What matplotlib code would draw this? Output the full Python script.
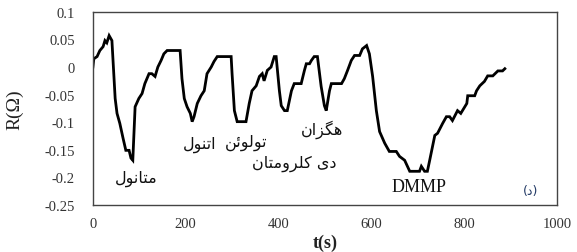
import matplotlib
matplotlib.use("Agg")
import matplotlib.pyplot as plt

# ---------------- data ----------------
t = [0, 2, 9, 15, 22, 26, 30, 35, 39, 41,
     48, 52, 58, 65, 71, 78, 82, 86, 91,
     99, 106, 112, 121, 127, 134, 140, 147, 153, 160, 188,
     192, 197, 203, 210, 214, 218,
     225, 233, 240, 246, 255, 261, 268, 298,
     300, 305, 311, 330,
     337, 343, 352, 359, 365, 369, 376, 384, 391, 395,
     402, 406, 413, 419,
     428, 434, 449, 456, 460, 467, 471, 477, 484,
     492, 499, 503,
     510, 514, 536, 542, 549, 557, 564, 575, 581, 590, 596,
     603, 611, 618,
     629, 639, 654, 661, 672, 683, 704, 708, 715, 721,
     726, 737, 743, 754, 762, 769, 775, 786, 793, 806, 808,
     823, 827, 834, 844, 851, 862, 873, 883, 888]
R = [0.0, 0.015, 0.019, 0.030, 0.037, 0.048, 0.044, 0.057, 0.051, 0.048,
     -0.057, -0.084, -0.102, -0.129, -0.151, -0.151, -0.165, -0.169, -0.072,
     -0.057, -0.048, -0.030, -0.012, -0.012, -0.017, 0.0, 0.012, 0.024, 0.030, 0.030,
     -0.021, -0.057, -0.072, -0.084, -0.099, -0.090,
     -0.066, -0.052, -0.043, -0.012, 0.0, 0.010, 0.019, 0.019,
     -0.012, -0.079, -0.099, -0.099,
     -0.066, -0.043, -0.034, -0.017, -0.012, -0.025, -0.006, 0.0, 0.019, 0.019,
     -0.043, -0.070, -0.079, -0.079,
     -0.043, -0.030, -0.030, -0.006, 0.006, 0.006, 0.012, 0.019, 0.019,
     -0.035, -0.070, -0.079,
     -0.043, -0.030, -0.030, -0.021, -0.006, 0.012, 0.021, 0.021, 0.033, 0.039, 0.024,
     -0.017, -0.079, -0.117,
     -0.138, -0.153, -0.153, -0.162, -0.169, -0.189, -0.189, -0.180, -0.189, -0.189,
     -0.169, -0.124, -0.120, -0.102, -0.090, -0.090, -0.097, -0.079, -0.084, -0.066, -0.052,
     -0.052, -0.043, -0.034, -0.026, -0.016, -0.016, -0.007, -0.007, -0.003]

x_ticks = [0, 200, 400, 600, 800, 1000]
y_ticks = [-0.25, -0.2, -0.15, -0.1, -0.05, 0, 0.05, 0.1]
y_tick_labels = ["-0.25", "-0.2", "-0.15", "-0.1", "-0.05", "0", "0.05", "0.1"]

labels = ["متانول", "اتنول", "تولوئن", "دی کلرومتان", "هگزان", "DMMP"]
label_t = [93, 229, 330, 434, 495, 702]
label_R = [-0.200, -0.139, -0.136, -0.174, -0.111, -0.216]

# ---------------- simple Arabic/Persian shaping ----------------
FORMS = {  # iso, fin, ini, med  (None = right-joining only)
    "\u0627": ("\uFE8D", "\uFE8E", None, None),
    "\u062A": ("\uFE95", "\uFE96", "\uFE97", "\uFE98"),
    "\u0646": ("\uFEE5", "\uFEE6", "\uFEE7", "\uFEE8"),
    "\u0648": ("\uFEED", "\uFEEE", None, None),
    "\u0644": ("\uFEDD", "\uFEDE", "\uFEDF", "\uFEE0"),
    "\u0645": ("\uFEE1", "\uFEE2", "\uFEE3", "\uFEE4"),
    "\u0626": ("\uFE89", "\uFE8A", "\uFE8B", "\uFE8C"),
    "\u062F": ("\uFEA9", "\uFEAA", None, None),
    "\u0631": ("\uFEAD", "\uFEAE", None, None),
    "\u0632": ("\uFEAF", "\uFEB0", None, None),
    "\u0647": ("\uFEE9", "\uFEEA", "\uFEEB", "\uFEEC"),
    "\u06CC": ("\uFBFC", "\uFBFD", "\uFBFE", "\uFBFF"),
    "\u06A9": ("\uFB8E", "\uFB8F", "\uFB90", "\uFB91"),
    "\u06AF": ("\uFB92", "\uFB93", "\uFB94", "\uFB95"),
}


def dual(c):
    return c in FORMS and FORMS[c][2] is not None


def shape(s):
    if not any(c in FORMS for c in s):
        return s
    out = []
    for i, c in enumerate(s):
        if c not in FORMS:
            out.append(c)
            continue
        prev = s[i - 1] if i > 0 else ""
        nxt = s[i + 1] if i + 1 < len(s) else ""
        jp = dual(prev)
        jn = dual(c) and nxt in FORMS
        iso, fin, ini, med = FORMS[c]
        if jp and jn:
            out.append(med)
        elif jp:
            out.append(fin)
        elif jn:
            out.append(ini)
        else:
            out.append(iso)
    return "".join(reversed(out))


# ---------------- figure ----------------
fig = plt.figure(figsize=(5.77, 2.53), dpi=100)
ax = fig.add_axes([0.161, 0.186, 0.804, 0.763])

ax.plot(t, R, color="black", linewidth=2.0, solid_joinstyle="miter")

ax.set_xlim(0, 1000)
ax.set_ylim(-0.25, 0.1)
ax.set_xticks(x_ticks)
ax.set_yticks(y_ticks)
ax.set_yticklabels(y_tick_labels)
serif = ["Liberation Serif", "DejaVu Serif"]
for lab in ax.get_xticklabels() + ax.get_yticklabels():
    lab.set_family(serif)
    lab.set_fontsize(10.5)
    lab.set_color("#333333")
ax.tick_params(axis="both", length=0)
ax.tick_params(axis="x", pad=9)
ax.tick_params(axis="y", pad=13)
for sp in ax.spines.values():
    sp.set_color("#444444")
    sp.set_linewidth(1.0)

ax.set_ylabel("R(Ω)", family=serif, fontsize=14, color="#222222")
ax.yaxis.set_label_coords(-0.149, 0.5)
ax.set_xlabel("t(s)", family=serif, fontsize=13, fontweight="bold",
              color="#222222")
ax.xaxis.set_label_coords(0.5, -0.15)

for s, xx, yy in zip(labels, label_t, label_R):
    if s == "DMMP":
        ax.text(xx, yy, s, family=serif, fontsize=13, ha="center", va="center",
                color="#111111")
    else:
        ax.text(xx, yy, shape(s), family=["DejaVu Sans"], fontsize=11.5,
                ha="center", va="center", color="#111111")

ax.text(944, -0.223, "(" + shape("د") + ")", family=["DejaVu Sans"], fontsize=9,
        ha="center", va="center", color="#203864")

fig.savefig("out.png", dpi=100)
